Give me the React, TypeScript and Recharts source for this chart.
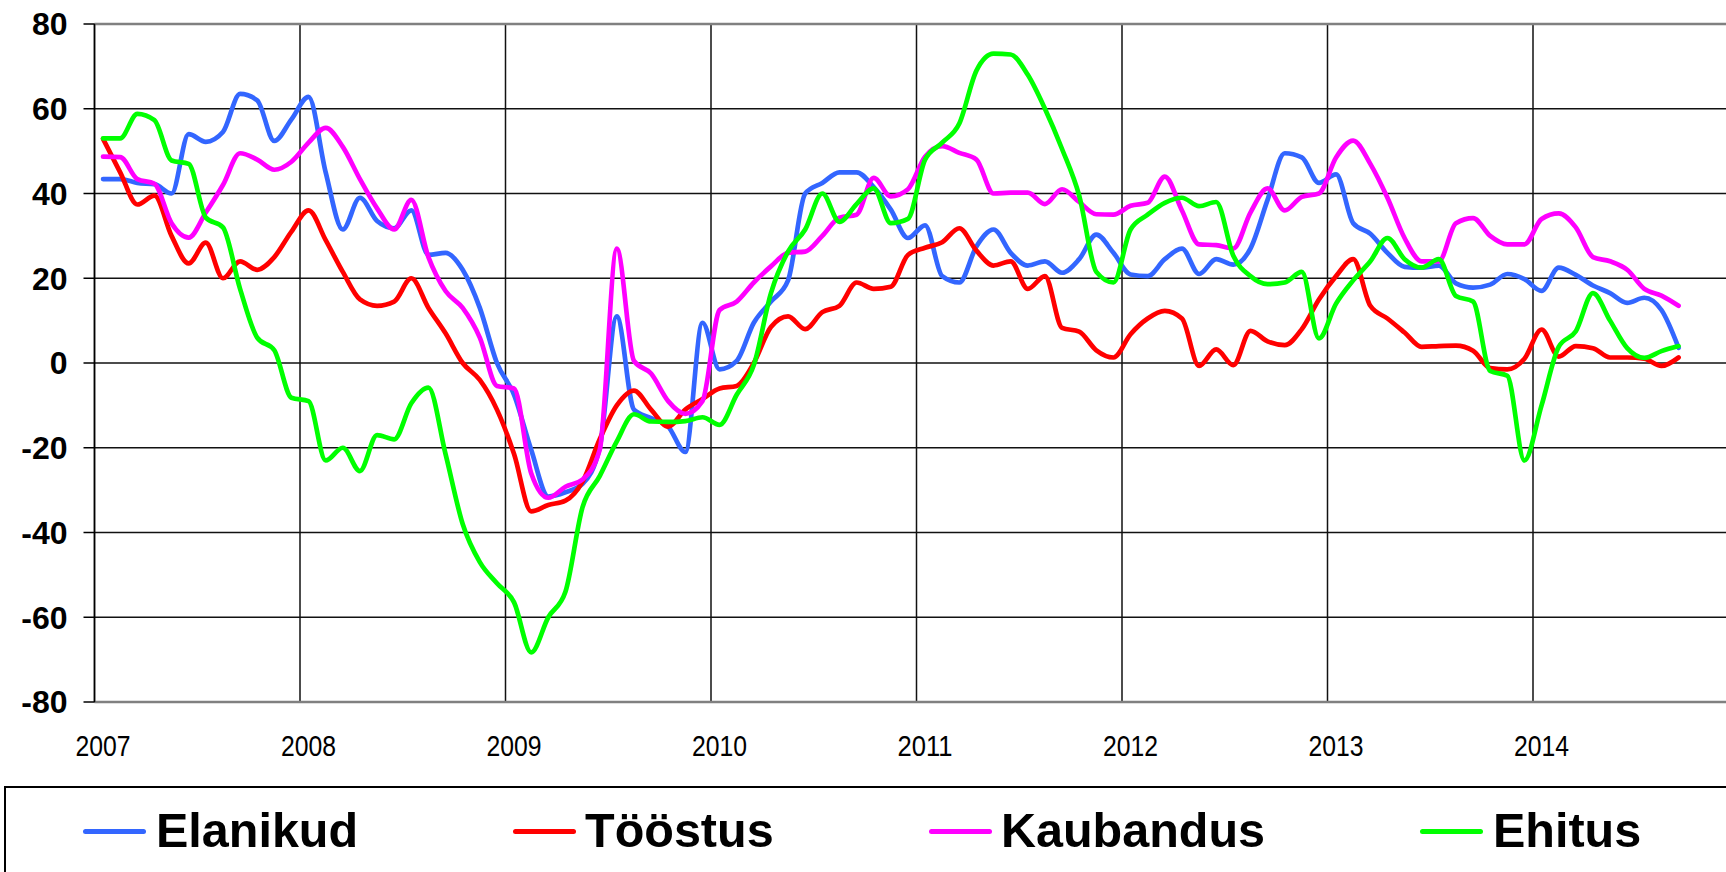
import React from "react";
import { CartesianGrid, Line, LineChart, ReferenceLine, XAxis, YAxis } from "recharts";

// monthly values, Jan 2007 .. Sep 2014
const yearLabels = ["2007", "2008", "2009", "2010", "2011", "2012", "2013", "2014"];
const yTicks = [-80, -60, -40, -20, 0, 20, 40, 60, 80];

const elanikud = [
  43.4, 43.4, 42.5, 42.2, 40, 54, 52.2, 54.5, 63.5, 62, 52.4, 57.5,
  62.8, 45, 31.5, 39, 33.5, 31.8, 36, 25.5, 26, 22, 13, 0,
  -7.5, -20.5, -31.5, -30.5, -28.5, -20, 11, -11, -13, -15, -21, 9.5,
  -1.5, 0.5, 9.5, 14.5, 19.5, 40, 42.5, 45, 45, 41.5, 36.2, 29.5,
  32.5, 20.5, 19, 27.5, 31.5, 26, 23, 24, 21.3, 24.5, 30.3, 26,
  20.9, 20.5, 24.5, 27, 21, 24.5, 23.2, 27, 38.5, 49.5, 48.5, 42.5,
  44.5, 33, 30.5, 26, 22.7, 22.5, 23, 18.8, 17.8, 18.5, 21, 19.8,
  17, 22.5, 20.8, 18.3, 16.5, 14.2, 15.4, 12.5, 3.6,
];

const toostus = [
  52.9, 45, 37.4, 39.5, 30, 23.5, 28.4, 20, 24, 22, 25, 31,
  36, 29, 21.5, 15, 13.5, 14.5, 20, 13, 7, 0, -4, -11,
  -21.5, -35, -33.5, -32.5, -28, -18, -10, -6.5, -11, -15, -11, -8.5,
  -6, -5.4, 0, 8.5, 11, 8, 12, 13.5, 19, 17.5, 18, 25.5,
  27.2, 28.5, 31.8, 26.5, 23, 24, 17.5, 20.5, 8.3, 7.4, 3, 1.3,
  6.8, 10.5, 12.3, 10.5, -0.7, 3.2, -0.5, 7.6, 5.1, 4.2, 8, 15,
  20.5, 24.5, 13.5, 10.5, 7.2, 3.8, 4, 4.1, 2.9, -1.2, -1.5, 1,
  7.9, 1.5, 4, 3.5, 1.3, 1.3, 1, -0.7, 1.3,
];

const kaubandus = [
  48.7, 48.6, 43.4, 42.3, 33, 29.6, 35.5, 42, 49.5, 48, 45.6, 47.5,
  52, 55.5, 51, 43.4, 36.5, 31.5, 38.5, 25, 17, 13, 6, -5.4,
  -6, -26, -31.8, -29.2, -27.5, -20.5, 27, 0.5, -2.5, -9, -12, -9,
  12.5, 14.5, 19, 22.8, 26, 26.3, 30, 34.3, 35, 43.7, 39.3, 41,
  48.7, 51.2, 49.6, 48, 40, 40.2, 40.2, 37.5, 41, 38, 35.1, 35,
  37.1, 37.8, 44, 36, 28, 27.8, 27, 35.5, 41.2, 36, 39.2, 40,
  48.5, 52.5, 47, 39, 29.5, 24, 24, 33, 34.2, 30, 28, 28,
  34, 35.3, 32, 25, 24, 22, 17.5, 15.9, 13.5,
];

const ehitus = [
  53, 53, 58.8, 57.3, 47.8, 47, 34.3, 32, 17.5, 6, 3, -8.2,
  -9, -23, -20, -25.5, -17, -18, -9.5, -5.8, -21.5, -38, -47, -52,
  -56.5, -68.3, -60, -54, -34, -26.7, -18.5, -12.1, -13.8, -13.9, -13.7, -12.8,
  -14.6, -7.5, -0.5, 16.5, 26.3, 31.5, 40, 33.3, 37.5, 41.2, 33, 34,
  48, 52, 56.5, 69, 73, 72.8, 68, 60, 50.5, 39.5, 21.5, 19,
  31.5, 35, 37.8, 39, 37, 38, 25.3, 20.5, 18.6, 19, 21.5, 5.8,
  14, 19.5, 24, 29.5, 24.5, 22.5, 24.5, 15.8, 14.5, -1.9, -3, -23,
  -10, 3.8, 7.5, 16.5, 10, 3.5, 1.2, 2.8, 4,
];

const seriesNames = ["Elanikud", "Tööstus", "Kaubandus", "Ehitus"];
const seriesColors = ["#3366ff", "#ff0000", "#ff00ff", "#00ff00"];

const monthCount = 96; // category axis runs Jan 2007 .. Dec 2014
const yearStarts = yearLabels.map((_, k) => k * 12 - 0.5);

const data = elanikud.map((v, i) => ({
  m: i,
  Elanikud: v,
  "Tööstus": toostus[i],
  Kaubandus: kaubandus[i],
  Ehitus: ehitus[i],
}));

const CHART_W = 1760;
const CHART_H = 872;
const MARGIN = { top: 24, right: 21.5, left: 0, bottom: 0 };
const Y_AXIS_W = 94.5;
const PLOT_W = CHART_W - MARGIN.left - MARGIN.right - Y_AXIS_W;
const HALF_MONTH = PLOT_W / monthCount / 2;

function YearTick(props: any) {
  const { x, y, payload } = props;
  const label = yearLabels[Math.round((payload.value + 0.5) / 12)];
  return (
    <text
      x={x + HALF_MONTH}
      y={y + 46}
      textAnchor="middle"
      fontSize={30}
      textLength={55}
      lengthAdjust="spacingAndGlyphs"
      fontFamily="'Liberation Sans Narrow', 'Arial Narrow', 'Liberation Sans', Arial, sans-serif"
      fill="#000"
    >
      {label}
    </text>
  );
}

// legend item positions (line start, text start)
const legendLineX = [83, 513, 929, 1420];
const legendTextX = [156, 585, 1001, 1493];

export default function App() {
  return (
    <div
      style={{
        position: "absolute",
        left: 0,
        top: 0,
        width: 1726,
        height: 872,
        overflow: "hidden",
        background: "#fff",
      }}
    >
      <LineChart width={CHART_W} height={CHART_H} data={data} margin={MARGIN}>
        <CartesianGrid stroke="#111" strokeWidth={1.5} />
        <XAxis
          type="number"
          dataKey="m"
          domain={[-0.5, monthCount - 0.5]}
          ticks={yearStarts}
          interval={0}
          height={CHART_H - 702 - MARGIN.bottom}
          tickLine={false}
          tickSize={6}
          tickMargin={2}
          axisLine={{ stroke: "#808080", strokeWidth: 2.5 }}
          tick={<YearTick />}
          allowDataOverflow
        />
        <YAxis
          type="number"
          domain={[-80, 80]}
          ticks={yTicks}
          interval={0}
          width={Y_AXIS_W}
          tickSize={11}
          tickMargin={16}
          tickLine={{ stroke: "#000", strokeWidth: 1.5 }}
          axisLine={{ stroke: "#000", strokeWidth: 1.5 }}
          tick={{
            fontSize: 32,
            fontWeight: 700,
            fill: "#000",
            fontFamily: "'Liberation Sans', Arial, sans-serif",
          }}
        />
        <ReferenceLine y={80} stroke="#808080" strokeWidth={2.5} />
        {seriesNames.map((name, k) => (
          <Line
            key={name}
            type="monotone"
            dataKey={name}
            stroke={seriesColors[k]}
            strokeWidth={4.7}
            strokeLinejoin="round"
            strokeLinecap="round"
            dot={false}
            activeDot={false}
            isAnimationActive={false}
          />
        ))}
      </LineChart>

      <div
        style={{
          position: "absolute",
          left: 4,
          top: 786,
          width: 1800,
          height: 200,
          border: "2px solid #000",
          boxSizing: "border-box",
        }}
      />
      {seriesNames.map((name, k) => (
        <React.Fragment key={name}>
          <div
            style={{
              position: "absolute",
              left: legendLineX[k],
              top: 828.5,
              width: 63,
              height: 5,
              borderRadius: 3,
              background: seriesColors[k],
            }}
          />
          <div
            style={{
              position: "absolute",
              left: legendTextX[k],
              top: 806,
              fontFamily: "'Liberation Sans', Arial, sans-serif",
              fontWeight: 700,
              fontSize: 48.5,
              lineHeight: "48.5px",
              color: "#000",
              whiteSpace: "nowrap",
            }}
          >
            {name}
          </div>
        </React.Fragment>
      ))}
    </div>
  );
}
